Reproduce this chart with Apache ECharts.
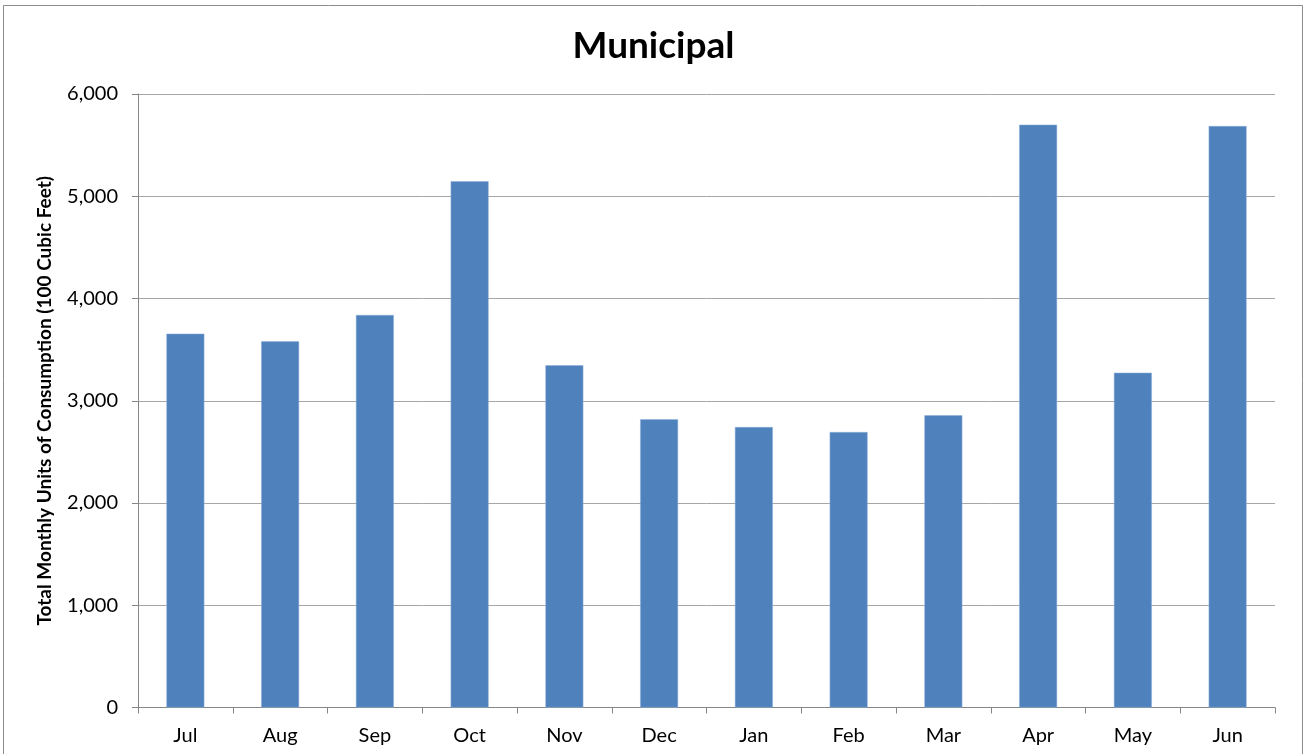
<!DOCTYPE html>
<html>
<head>
<meta charset="utf-8">
<script src="https://cdn.jsdelivr.net/npm/echarts@6/dist/echarts.min.js"></script>
<style>
html,body{margin:0;padding:0;background:#fff;}
#chart{width:1307px;height:754px;}
</style>
</head>
<body>
<div id="chart"></div>
<script>
const categories = ['Jul','Aug','Sep','Oct','Nov','Dec','Jan','Feb','Mar','Apr','May','Jun'];
const consumption = [3656, 3581, 3839, 5146, 3347, 2819, 2743, 2694, 2858, 5700, 3274, 5687];
const titleText = 'Municipal';
const yAxisName = 'Total Monthly Units of Consumption (100 Cubic Feet)';

const FONT = 'Lato, "Open Sans", sans-serif';
const chart = echarts.init(document.getElementById('chart'), null, {renderer:'canvas'});
chart.setOption({
  backgroundColor: '#ffffff',
  animation: false,
  graphic: [{
    type: 'rect',
    shape: {x: 3.5, y: 5.5, width: 1299, height: 760},
    style: {fill: 'none', stroke: '#8c8c8c', lineWidth: 1},
    silent: true
  }],
  title: {
    text: titleText,
    left: 'center',
    top: 23,
    textStyle: {fontFamily: FONT, fontSize: 37, fontWeight: 'bold', color: '#000'}
  },
  grid: {left: 138, right: 32, top: 94, bottom: 46.5, containLabel: false},
  xAxis: {
    type: 'category',
    data: categories,
    axisLine: {show: true, lineStyle: {color: '#868686', width: 1}},
    axisTick: {show: true, alignWithLabel: false, length: 6, lineStyle: {color: '#868686'}},
    axisLabel: {fontFamily: FONT, fontSize: 20, color: '#000', margin: 18}
  },
  yAxis: {
    type: 'value',
    min: 0,
    max: 6000,
    interval: 1000,
    name: yAxisName,
    nameLocation: 'middle',
    nameRotate: 90,
    nameGap: 84,
    nameTextStyle: {fontFamily: FONT, fontSize: 19, fontWeight: 'bold', color: '#000'},
    axisLine: {show: true, lineStyle: {color: '#868686', width: 1}},
    axisTick: {show: true, length: 6, lineStyle: {color: '#868686'}},
    axisLabel: {fontFamily: FONT, fontSize: 20, color: '#000', margin: 20,
      formatter: v => v.toLocaleString('en-US')},
    splitLine: {show: true, lineStyle: {color: '#a6a6a6', width: 1}}
  },
  series: [{
    type: 'bar',
    data: consumption,
    barCategoryGap: '60%',
    itemStyle: {color: '#4F81BD', borderColor: '#8FB0DA', borderWidth: 0.5}
  }]
});
</script>
</body>
</html>
